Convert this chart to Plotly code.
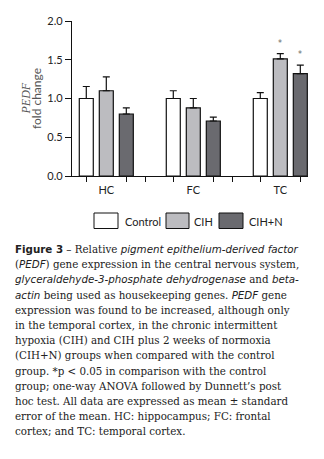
import plotly.graph_objects as go

# Relative PEDF expression by brain region and group
regions = ["HC", "FC", "TC"]
groups = ["Control", "CIH", "CIH+N"]
means = {
    "Control": [1.00, 1.00, 1.00],
    "CIH": [1.10, 0.88, 1.51],
    "CIH+N": [0.80, 0.71, 1.32],
}
sem = {
    "Control": [0.155, 0.10, 0.075],
    "CIH": [0.18, 0.12, 0.07],
    "CIH+N": [0.08, 0.05, 0.11],
}
significant = {"CIH": [False, False, True], "CIH+N": [False, False, True]}
y_ticks = [0.0, 0.5, 1.0, 1.5, 2.0]

fills = {"Control": "#ffffff", "CIH": "#bcbcc0", "CIH+N": "#6a6a6f"}

W, H = 324, 459
L, R, T, B = 72, 16, 21, 283
PW, PH = W - L - R, H - T - B

BARGAP, GROUPGAP = 0.31, 0.30
slot = (1 - BARGAP) / len(groups)


def px(x):
    return (x - L) / PW


def py(y):
    return (T + PH - y) / PH


xpos = list(range(len(regions)))
fig = go.Figure()
for g in groups:
    fig.add_trace(go.Bar(
        x=xpos, y=means[g], name=g,
        marker=dict(color=fills[g], line=dict(color="#111111", width=1.2)),
        error_y=dict(type="data", array=sem[g], arrayminus=[0] * len(regions),
                     symmetric=False, color="#111111", thickness=1.2, width=3.5),
        showlegend=False,
    ))

# significance markers
for gi, g in enumerate(groups):
    if g not in significant:
        continue
    off = (gi - 1) * slot
    for ri, flag in enumerate(significant[g]):
        if flag:
            fig.add_annotation(x=ri + off, y=means[g][ri] + sem[g][ri], text="*",
                               showarrow=False, yanchor="bottom", yshift=4,
                               font=dict(family="DejaVu Sans", size=8, color="#666666"))

# x tick marks: outer bars of each group plus separators between groups
tickvals = []
for ri in xpos:
    tickvals += [ri - slot, ri + slot]
    if ri < len(regions) - 1:
        tickvals.append(ri + 0.45)

x_range = [-(106.3 - L) / 87.0, (L + PW - 106.3) / 87.0]

fig.update_layout(
    width=W, height=H,
    margin=dict(l=L, r=R, t=T, b=B, autoexpand=False),
    paper_bgcolor="white", plot_bgcolor="white",
    barmode="group", bargap=BARGAP, bargroupgap=GROUPGAP,
    xaxis=dict(range=x_range, showgrid=False, zeroline=False, showline=True,
               linecolor="#111111", linewidth=1.2, ticks="outside", ticklen=5,
               tickwidth=1.2, tickcolor="#111111", tickvals=tickvals,
               showticklabels=False),
    xaxis2=dict(range=x_range, overlaying="x", anchor="y", side="bottom",
                showgrid=False, zeroline=False, showline=False, ticks="outside",
                ticklen=4, tickcolor="rgba(0,0,0,0)", tickvals=xpos, ticktext=regions,
                tickfont=dict(family="Lato", size=11, color="#222222")),
    yaxis=dict(range=[0, 2.0], tickvals=y_ticks, tickformat=".1f",
               showgrid=False, zeroline=False, showline=True,
               linecolor="#111111", linewidth=1.2, ticks="outside", ticklen=6,
               tickwidth=1.2, tickcolor="#111111",
               tickfont=dict(family="Lato", size=11, color="#222222"),
               title=dict(text="fold change",
                          font=dict(family="Lato", size=12, color="#555555"),
                          standoff=3)),
)
# gene name line of the y-axis title
fig.add_annotation(xref="paper", yref="paper", x=px(25), y=0.5, text="<i>PEDF</i>",
                   textangle=-90, showarrow=False, xanchor="center", yanchor="middle",
                   font=dict(family="Liberation Serif", size=12, color="#555555"))

# invisible trace so xaxis2 renders its labels
fig.add_trace(go.Scatter(x=[x_range[0]], y=[0], xaxis="x2", mode="markers",
                         marker=dict(opacity=0), showlegend=False, hoverinfo="skip"))

# legend row
legend_items = [("Control", 94, 118, 123), ("CIH", 166, 189, 192), ("CIH+N", 219, 243, 247)]
for name, x0, x1, xt in legend_items:
    fig.add_shape(type="rect", xref="paper", yref="paper",
                  x0=px(x0), x1=px(x1), y0=py(213), y1=py(228.5),
                  fillcolor=fills[name], line=dict(color="#111111", width=1))
    fig.add_annotation(xref="paper", yref="paper", x=px(xt), y=py(221), text=name,
                       xanchor="left", yanchor="middle", showarrow=False,
                       font=dict(family="Lato", size=11, color="#222222"))

# figure caption
SANS_B = "<span style='font-family:DejaVu Sans'><b>{}</b></span>"
SANS_I = "<span style='font-family:DejaVu Sans'><i>{}</i></span>"
caption = [
    SANS_B.format("Figure 3") + " – Relative " + SANS_I.format("pigment epithelium-derived factor"),
    "(" + SANS_I.format("PEDF") + ") gene expression in the central nervous system,",
    SANS_I.format("glyceraldehyde-3-phosphate dehydrogenase") + " and " + SANS_I.format("beta-"),
    SANS_I.format("actin") + " being used as housekeeping genes. " + SANS_I.format("PEDF") + " gene",
    "expression was found to be increased, although only",
    "in the temporal cortex, in the chronic intermittent",
    "hypoxia (CIH) and CIH plus 2 weeks of normoxia",
    "(CIH+N) groups when compared with the control",
    "group. *p &lt; 0.05 in comparison with the control",
    "group; one-way ANOVA followed by Dunnett’s post",
    "hoc test. All data are expressed as mean ± standard",
    "error of the mean. HC: hippocampus; FC: frontal",
    "cortex; and TC: temporal cortex.",
]
for i, line in enumerate(caption):
    fig.add_annotation(xref="paper", yref="paper", x=px(13), y=py(249 + i * 15.2),
                       text=line, xanchor="left", yanchor="middle", showarrow=False,
                       font=dict(family="DejaVu Serif", size=10.3, color="#222222"))

fig.write_html("out.html")
